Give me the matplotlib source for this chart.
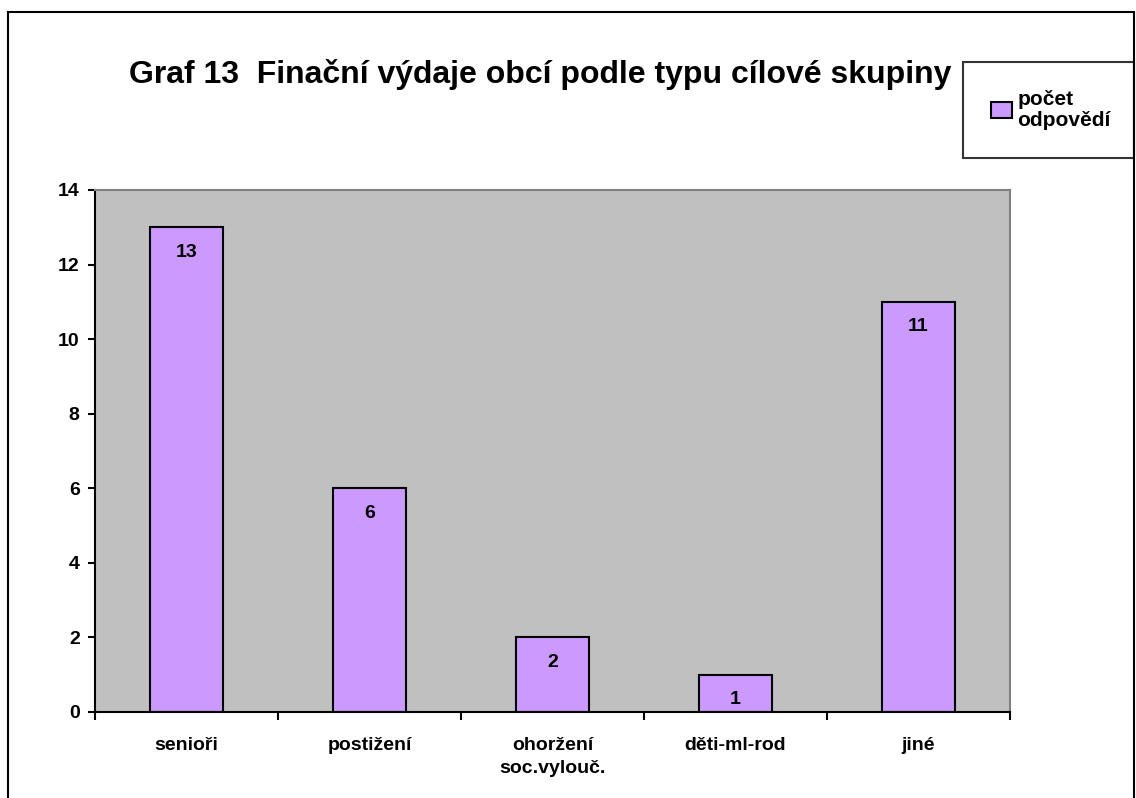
import matplotlib.pyplot as plt
from matplotlib.patches import Rectangle
from matplotlib.legend_handler import HandlerPatch
import numpy as np

plt.rcParams['font.family'] = ['Liberation Sans', 'DejaVu Sans']
plt.rcParams['font.weight'] = 'bold'

# data
categories = ['senioři', 'postižení', 'ohoržení\nsoc.vylouč.', 'děti-ml-rod', 'jiné']
values = [13, 6, 2, 1, 11]
series_name = 'počet\nodpovědí'
title = 'Graf 13  Finační výdaje obcí podle typu cílové skupiny'

W, H = 1136, 798
fig = plt.figure(figsize=(W / 100, H / 100), dpi=100)

# outer chart border (bottom edge is cut off in the original)
fig.patches.append(Rectangle((8 / W, -0.05), 1126 / W, 1 - 12 / H + 0.05,
                             transform=fig.transFigure, fill=False,
                             edgecolor='black', linewidth=1.5))

ax = fig.add_axes([95 / W, (H - 712) / H, (1010 - 95) / W, (712 - 190) / H])
ax.set_facecolor('#C0C0C0')

x = np.arange(len(categories))
bars = ax.bar(x, values, width=0.4, color='#CC99FF', edgecolor='black',
              linewidth=1.5, label=series_name, zorder=2)

for xi, v in zip(x, values):
    ax.annotate(str(v), (xi, v), xytext=(0, -18), textcoords='offset points',
                ha='center', va='center', fontsize=14, fontweight='bold')

ax.set_xlim(-0.5, len(categories) - 0.5)
ax.set_ylim(0, 14)
ax.set_yticks(np.arange(0, 15, 2))
ax.set_xticks(x)
ax.set_xticklabels(categories, fontsize=14, fontweight='bold', linespacing=1.45)
ax.set_xticks(np.arange(-0.5, len(categories), 1), minor=True)
ax.tick_params(axis='x', which='major', length=0, pad=18)
ax.tick_params(axis='x', which='minor', length=6, width=1.5, direction='out')
ax.tick_params(axis='y', length=5, width=1.5, direction='out', labelsize=14, pad=6)

for s in ['left', 'bottom']:
    ax.spines[s].set_linewidth(1.5)
    ax.spines[s].set_color('black')
for s in ['top', 'right']:
    ax.spines[s].set_linewidth(1.5)
    ax.spines[s].set_color('#808080')

fig.text(540 / W, 1 - 75 / H, title, ha='center', va='center',
         fontsize=23, fontweight='bold')


def top_square(legend, orig_handle, xdescent, ydescent, width, height, fontsize):
    s = 0.62 * fontsize
    return Rectangle((-xdescent + width - s, -ydescent + 0.55 * fontsize), s, s)


leg = ax.legend(loc='upper left', bbox_to_anchor=(963 / W, 1 - 158 / H, 171 / W, 96 / H),
                bbox_transform=fig.transFigure, mode='expand', frameon=True,
                fancybox=False, prop={'size': 15, 'weight': 'bold'},
                handlelength=1.0, handleheight=0.75, handletextpad=0.25,
                borderpad=1.35, borderaxespad=0, labelspacing=0,
                handler_map={bars.patches[0].__class__: HandlerPatch(patch_func=top_square)})
leg.get_frame().set_edgecolor('black')
leg.get_frame().set_linewidth(1.5)
for t in leg.get_texts():
    t.set_linespacing(1.1)

fig.savefig('out.png', dpi=100)
